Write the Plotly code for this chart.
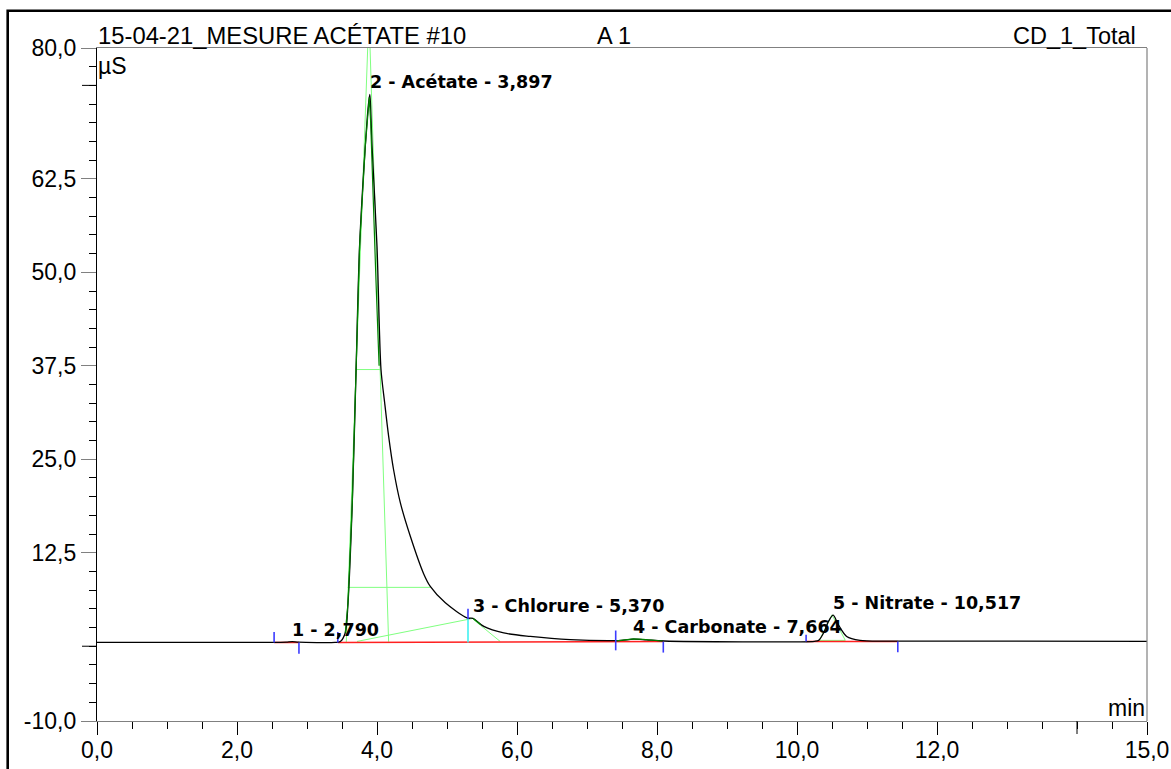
import plotly.graph_objects as go

# ---------------- data ----------------
time_min = [0.0, 2.50, 2.70, 2.79, 2.88, 3.40, 3.476, 3.547, 3.586, 3.647, 3.700, 3.751,
            3.833, 3.876, 3.897, 3.908, 3.929, 4.000, 4.057, 4.109, 4.166, 4.237, 4.333,
            4.476, 4.666, 4.761, 4.976, 5.286, 5.371, 5.526, 5.811, 6.19, 6.76, 7.38,
            7.50, 7.664, 7.85, 8.10, 10.25, 10.31, 10.38, 10.45, 10.517, 10.59, 10.71,
            10.90, 11.3, 15.0]
signal_uS = [0.51, 0.51, 0.55, 0.62, 0.54, 0.51, 0.64, 1.81, 5.82, 19.17, 36.6, 53.5,
             66.9, 72.3, 73.8, 72.3, 66.9, 53.5, 37.0, 32.6, 28.1, 23.6, 19.2,
             14.7, 9.7, 8.0, 5.8, 3.78, 3.72, 2.65, 1.77, 1.31, 0.87, 0.74,
             0.78, 0.95, 0.85, 0.70, 0.66, 0.78, 1.77, 3.32, 4.15, 2.88, 1.31,
             0.78, 0.68, 0.66]

peak_labels = ["1 - 2,790", "2 - Acétate - 3,897", "3 - Chlorure - 5,370",
               "4 - Carbonate - 7,664", "5 - Nitrate - 10,517"]
peak_rt = [2.790, 3.897, 5.370, 7.664, 10.517]
peak_height = [0.62, 73.8, 3.72, 0.95, 4.15]

# peak delimiter marks (time, from, to)
delim_time = [2.53, 2.885, 3.44, 5.30, 7.41, 8.09, 10.13, 11.44]
delim_from = [0.50, 0.50, 0.50, 3.60, -0.55, 0.60, 0.64, 0.64]
delim_to = [1.90, -1.00, 1.90, 5.00, 2.10, -0.85, 1.55, -0.80]
drop_time = [5.30]
drop_from = [0.50]
drop_to = [3.60]

# integration baselines
base_seg_time = [[2.53, 2.885], [3.44, 8.09], [10.13, 11.44]]
base_seg_val = [[0.50, 0.50], [0.50, 0.62], [0.62, 0.64]]

# peak evaluation construction lines (light green)
aux_time = [[3.561, 3.875], [4.166, 3.894], [3.700, 4.047], [3.580, 4.761],
            [3.714, 5.286, 5.371], [5.380, 5.760], [10.32, 10.50, 10.69, 10.32]]
aux_val = [[0.5, 82.0], [0.6, 82.0], [37.0, 37.0], [7.87, 7.87],
           [0.64, 3.64, 3.72], [3.55, 0.64], [0.78, 4.2, 0.78, 0.78]]

# fitted peak outlines (dark green)
fit_time = [[3.547, 3.586, 3.647, 3.700, 3.751, 3.833, 3.870, 3.890, 3.910, 3.940, 3.985, 4.030],
            [5.371, 5.420, 5.480], [7.42, 7.55, 7.664, 7.80, 7.95, 8.08]]
fit_val = [[1.81, 5.82, 19.17, 36.6, 53.5, 66.9, 72.0, 73.4, 70.0, 61.0, 49.0, 37.5],
           [3.72, 3.30, 2.90], [0.72, 0.86, 0.97, 0.92, 0.80, 0.70]]

x_tick_vals = [0, 2, 4, 6, 8, 10, 12, 15]
x_tick_text = ["0,0", "2,0", "4,0", "6,0", "8,0", "10,0", "12,0", "15,0"]
y_tick_vals = [80, 62.5, 50, 37.5, 25, 12.5, -10]
y_tick_text = ["80,0", "62,5", "50,0", "37,5", "25,0", "12,5", "-10,0"]
y_black_ticks = [75, 0]
x_black_ticks = [14]

# ---------------- figure ----------------
W, H = 1171, 769
ML, MR, MT, MB = 97, 24, 48, 48
PW, PH = W - ML - MR, H - MT - MB
LIGHT = "#80FF80"
DARK = "#008000"
BLUE = "#3C3CFF"
GRAY = "#808080"
FONT = "Liberation Sans, Arial, sans-serif"

fig = go.Figure()

for tx, vy in zip(aux_time, aux_val):
    fig.add_trace(go.Scatter(x=tx, y=vy, mode="lines",
                             line=dict(color=LIGHT, width=1), hoverinfo="skip"))

for tx, vy in zip(base_seg_time, base_seg_val):
    fig.add_trace(go.Scatter(x=tx, y=vy, mode="lines",
                             line=dict(color="#FF2020", width=1.5), hoverinfo="skip"))

fig.add_trace(go.Scatter(x=time_min, y=signal_uS, mode="lines",
                         line=dict(color="black", width=1.3, shape="spline", smoothing=0.8),
                         hoverinfo="skip"))

for tx, vy in zip(fit_time, fit_val):
    fig.add_trace(go.Scatter(x=tx, y=vy, mode="lines",
                             line=dict(color=DARK, width=1.2), hoverinfo="skip"))

for t, a, b in zip(delim_time, delim_from, delim_to):
    fig.add_trace(go.Scatter(x=[t, t], y=[a, b], mode="lines",
                             line=dict(color=BLUE, width=1.6), hoverinfo="skip"))
for t, a, b in zip(drop_time, drop_from, drop_to):
    fig.add_trace(go.Scatter(x=[t, t], y=[a, b], mode="lines",
                             line=dict(color="#40F0F0", width=1.6), hoverinfo="skip"))

annotations = []
for name, rt, h in zip(peak_labels, peak_rt, peak_height):
    annotations.append(dict(x=rt, y=h, xref="x", yref="y", text=name, showarrow=False,
                            xanchor="left", yanchor="bottom", xshift=-2, yshift=0,
                            font=dict(family="DejaVu Sans", size=17.5, color="black",
                                      weight="bold")))

annotations += [
    dict(x=0, y=1, xref="paper", yref="paper", text="15-04-21_MESURE ACÉTATE #10",
         showarrow=False, xanchor="left", yanchor="bottom", xshift=-1, yshift=-3,
         font=dict(family=FONT, size=23.8, color="black")),
    dict(x=(614 - ML) / PW, y=1, xref="paper", yref="paper", text="A 1",
         showarrow=False, xanchor="center", yanchor="bottom", yshift=-3,
         font=dict(family=FONT, size=23.5, color="black")),
    dict(x=(1138 - ML) / PW, y=1, xref="paper", yref="paper", text="CD_1_Total",
         showarrow=False, xanchor="right", yanchor="bottom", yshift=-3,
         font=dict(family=FONT, size=23.5, color="black")),
    dict(x=0, y=1, xref="paper", yref="paper", text="µS",
         showarrow=False, xanchor="left", yanchor="top", xshift=-1, yshift=-3,
         font=dict(family=FONT, size=23, color="black")),
    dict(x=1, y=0, xref="paper", yref="paper", text="min",
         showarrow=False, xanchor="right", yanchor="bottom", xshift=0, yshift=-2,
         font=dict(family=FONT, size=23, color="black")),
]

shapes = []
for yv in y_black_ticks:
    shapes.append(dict(type="line", xref="paper", yref="y", x0=-15 / PW, x1=0,
                       y0=yv, y1=yv, line=dict(color="black", width=1)))
for xv in x_black_ticks:
    shapes.append(dict(type="line", xref="x", yref="paper", x0=xv, x1=xv,
                       y0=-13 / PH, y1=0, line=dict(color="black", width=1)))
# right border of plot area
shapes.append(dict(type="line", xref="paper", yref="paper", x0=1, x1=1, y0=0, y1=1,
                   line=dict(color=GRAY, width=1.2)))
# outer frame: only its left and top edges fall inside the page
shapes.append(dict(type="rect", xref="paper", yref="paper",
                   x0=(7.5 - ML) / PW, x1=(W + 20 - ML) / PW,
                   y0=-(MB + 20) / PH, y1=1 + (MT - 10.5) / PH,
                   line=dict(color="black", width=2.2), layer="above"))

fig.update_layout(
    width=W, height=H, autosize=False,
    margin=dict(l=ML, r=MR, t=MT, b=MB, pad=0, autoexpand=False),
    paper_bgcolor="white", plot_bgcolor="white",
    showlegend=False, hovermode=False,
    annotations=annotations, shapes=shapes,
    xaxis=dict(range=[0, 15], showgrid=False, zeroline=False, automargin=False,
               showline=True, linecolor=GRAY, linewidth=1.2, mirror=True,
               tickmode="array", tickvals=x_tick_vals, ticktext=x_tick_text,
               ticks="outside", ticklen=13, tickcolor="black", tickwidth=1,
               tickfont=dict(family=FONT, size=23, color="black"),
               ticklabelstandoff=-5,
               minor=dict(tickmode="linear", tick0=0, dtick=0.5, ticks="outside",
                          ticklen=7, tickcolor="black", tickwidth=1, showgrid=False)),
    yaxis=dict(range=[-10, 80], showgrid=False, zeroline=False, automargin=False,
               showline=True, linecolor="black", linewidth=1.2, mirror=False,
               tickmode="array", tickvals=y_tick_vals, ticktext=y_tick_text,
               ticks="outside", ticklen=15, tickcolor=GRAY, tickwidth=1.2,
               tickfont=dict(family=FONT, size=23, color="black"),
               minor=dict(tickmode="linear", tick0=0, dtick=2.5, ticks="outside",
                          ticklen=7, tickcolor="black", tickwidth=1, showgrid=False)),
)

page_js = (
    "document.body.style.margin='0';document.body.style.overflow='hidden';"
    "var fr=document.createElement('div');"
    "fr.style.cssText='position:absolute;left:6.5px;top:9.5px;width:1300px;height:900px;"
    "border-left:2px solid #000;border-top:2px solid #000;pointer-events:none;';"
    "document.body.appendChild(fr);"
)
fig.write_html("out.html", config={"displayModeBar": False}, post_script=page_js)
